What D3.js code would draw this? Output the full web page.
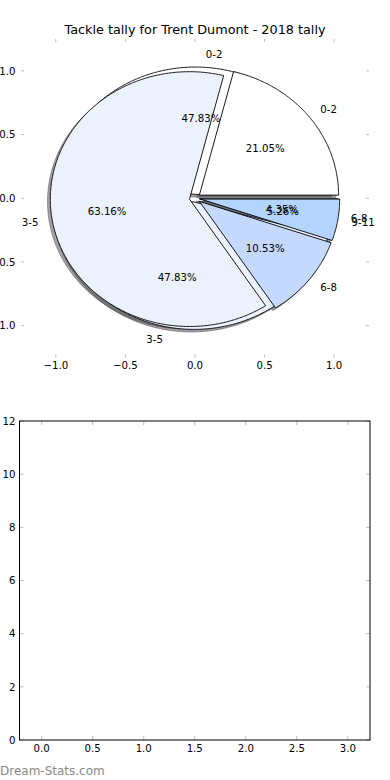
<!DOCTYPE html>
<html><head><meta charset="utf-8">
<script src="https://cdn.jsdelivr.net/npm/d3@7"></script>
<style>body{margin:0;background:#fff} text{font-family:"DejaVu Sans",sans-serif;}</style>
</head><body><svg id="c" width="390" height="780"></svg>
<script>
// ---- data ----
const chartTitle = "Tackle tally for Trent Dumont - 2018 tally";
const watermark = "Dream-Stats.com";
const categoriesA = ["0-2", "3-5", "6-8"];          // pie drawn first (underneath)
const valuesA = [11, 11, 1];
const categoriesB = ["0-2", "3-5", "6-8", "9-11"];  // pie drawn on top
const valuesB = [4, 12, 2, 1];
const sliceColors = ["#ffffff", "#ebf1fd", "#c5d8fd", "#b3d4fe"];
const pieTicks = [-1.0, -0.5, 0.0, 0.5, 1.0];
const lowerXTicks = [0, 0.5, 1, 1.5, 2, 2.5, 3];
const lowerYTicks = [0, 2, 4, 6, 8, 10, 12];

// ---- layout / style ----
const explodeA = 0.03, explodeB = 0.04, shadowOff = 0.02;
const tickCol = "#bdbdbd";
const svg = d3.select("#c");

// ===== top (pie) axes =====
const px = d3.scaleLinear([-1.25, 1.25], [21, 369]);
const py = d3.scaleLinear([-1.25, 1.25], [357.5, 39]);

svg.append("text").attr("x", 195).attr("y", 34).attr("text-anchor", "middle")
  .attr("font-size", 12.8).attr("fill", "#000").text(chartTitle);

function wedgeData(values, explode) {
  const total = d3.sum(values);
  const arcs = d3.pie().sort(null).startAngle(Math.PI / 2).endAngle(Math.PI / 2 - 2 * Math.PI)(values);
  return arcs.map((a, i) => {
    const t1 = Math.PI / 2 - a.startAngle, t2 = Math.PI / 2 - a.endAngle;
    const tm = (t1 + t2) / 2;
    return { i, t1, t2, tm, cx: explode * Math.cos(tm), cy: explode * Math.sin(tm), frac: values[i] / total };
  });
}
function wedgePts(w, ox, oy) {
  const n = Math.max(4, Math.ceil((w.t2 - w.t1) / 0.01));
  const pts = [[w.cx + ox, w.cy + oy]];
  for (let k = 0; k <= n; k++) {
    const t = w.t1 + (w.t2 - w.t1) * k / n;
    pts.push([w.cx + ox + Math.cos(t), w.cy + oy + Math.sin(t)]);
  }
  return pts;
}
const line = d3.line().x(d => px(d[0])).y(d => py(d[1])).curve(d3.curveLinearClosed);

const wa = wedgeData(valuesA, explodeA), wb = wedgeData(valuesB, explodeB);
const gPie = svg.append("g");
// shadows first
[wa, wb].forEach(ws => ws.forEach(w => {
  const c = d3.rgb(sliceColors[w.i]);
  const sc = d3.rgb(c.r * 0.3, c.g * 0.3, c.b * 0.3);
  gPie.append("path").attr("d", line(wedgePts(w, -shadowOff, -shadowOff)))
    .attr("fill", sc).attr("fill-opacity", 0.5).attr("stroke", sc).attr("stroke-opacity", 0.5).attr("stroke-width", 1);
}));
// wedges
[wa, wb].forEach(ws => ws.forEach(w => {
  gPie.append("path").attr("d", line(wedgePts(w, 0, 0)))
    .attr("fill", sliceColors[w.i]).attr("stroke", "#000").attr("stroke-width", 0.9).attr("stroke-linejoin", "miter");
}));
// texts
[[wa, categoriesA], [wb, categoriesB]].forEach(([ws, cats]) => ws.forEach(w => {
  const xt = w.cx + 1.1 * Math.cos(w.tm), yt = w.cy + 1.1 * Math.sin(w.tm);
  gPie.append("text").attr("x", px(xt)).attr("y", py(yt)).attr("dy", "0.36em")
    .attr("text-anchor", xt > 0 ? "start" : "end").attr("font-size", 10.2).text(cats[w.i]);
  const xp = w.cx + 0.6 * Math.cos(w.tm), yp = w.cy + 0.6 * Math.sin(w.tm);
  gPie.append("text").attr("x", px(xp)).attr("y", py(yp)).attr("dy", "0.36em")
    .attr("text-anchor", "middle").attr("font-size", 10.2).text((w.frac * 100).toFixed(2) + "%");
}));

// frame-less ticks for pie axes
function ticksFrameless(xs, ys, x0, x1, y0, y1, len) {
  const g = svg.append("g").attr("stroke", tickCol).attr("stroke-width", 1);
  pieTicks.forEach(v => {
    g.append("line").attr("x1", xs(v)).attr("x2", xs(v)).attr("y1", y1).attr("y2", y1 - len);
    g.append("line").attr("x1", xs(v)).attr("x2", xs(v)).attr("y1", y0).attr("y2", y0 + len);
    g.append("line").attr("y1", ys(v)).attr("y2", ys(v)).attr("x1", x0).attr("x2", x0 + len);
    g.append("line").attr("y1", ys(v)).attr("y2", ys(v)).attr("x1", x1).attr("x2", x1 - len);
  });
}
ticksFrameless(px, py, 21, 369, 39, 357.5, 3);
const fmt1 = v => d3.format(".1f")(v).replace("-", "\u2212");
svg.append("g").selectAll("text").data(pieTicks).join("text")
  .attr("x", d => px(d)).attr("y", 369).attr("text-anchor", "middle").attr("font-size", 10.2).text(fmt1);
svg.append("g").selectAll("text").data(pieTicks).join("text")
  .attr("x", 15.5).attr("y", d => py(d)).attr("dy", "0.36em").attr("text-anchor", "end").attr("font-size", 10.2).text(fmt1);

// ===== bottom (empty) axes =====
const bx = d3.scaleLinear([-0.2175, 3.2175], [19.5, 370]);
const by = d3.scaleLinear([0, 12], [740, 421]);
const gB = svg.append("g");
const tl = 4;
lowerXTicks.forEach(v => {
  gB.append("line").attr("x1", bx(v)).attr("x2", bx(v)).attr("y1", 740).attr("y2", 740 - tl).attr("stroke", tickCol);
  gB.append("line").attr("x1", bx(v)).attr("x2", bx(v)).attr("y1", 421).attr("y2", 421 + tl).attr("stroke", tickCol);
});
lowerYTicks.forEach(v => {
  gB.append("line").attr("y1", by(v)).attr("y2", by(v)).attr("x1", 19.5).attr("x2", 19.5 + tl).attr("stroke", tickCol);
  gB.append("line").attr("y1", by(v)).attr("y2", by(v)).attr("x1", 370).attr("x2", 370 - tl).attr("stroke", tickCol);
});
gB.append("rect").attr("x", bx.range()[0]).attr("y", by.range()[1])
  .attr("width", bx.range()[1] - bx.range()[0]).attr("height", by.range()[0] - by.range()[1])
  .attr("fill", "none").attr("stroke", "#000").attr("stroke-width", 1);
gB.append("g").selectAll("text").data(lowerXTicks).join("text")
  .attr("x", d => bx(d)).attr("y", 752).attr("text-anchor", "middle").attr("font-size", 10.2).text(d => d3.format(".1f")(d));
gB.append("g").selectAll("text").data(lowerYTicks).join("text")
  .attr("x", 15.5).attr("y", d => by(d)).attr("dy", "0.36em").attr("text-anchor", "end").attr("font-size", 10.2).text(d => d);

svg.append("text").attr("x", 0).attr("y", 775).attr("font-size", 12).attr("fill", "#8a8a8a").text(watermark);
</script></body></html>
